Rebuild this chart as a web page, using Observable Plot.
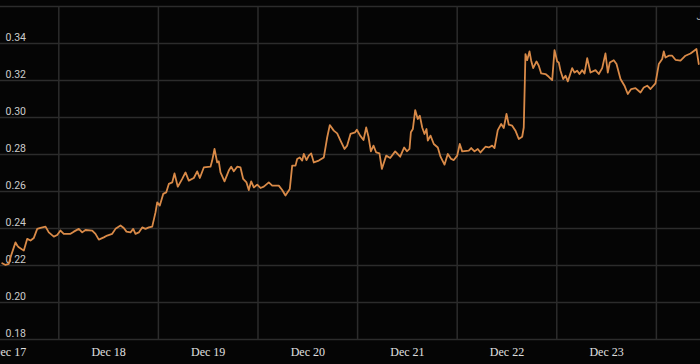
<!DOCTYPE html>
<html>
<head>
<meta charset="utf-8">
<script src="https://cdn.jsdelivr.net/npm/d3@7"></script>
<script src="https://cdn.jsdelivr.net/npm/@observablehq/plot@0.6"></script>
<style>
  html, body { margin: 0; padding: 0; background: #050505; overflow: hidden; }
  #chart { width: 700px; height: 364px; }
</style>
</head>
<body>
<div id="chart"></div>
<script>
// Hours after Dec 17 00:00 (UTC) and the price
const hours = [
  -1.64, -0.84, -0.05, 0.36, 1.57, 1.98, 2.36, 3.18, 3.57, 4.39, 5.18, 5.98, 6.80, 7.59, 8.80, 9.59,
  10.80, 11.61, 12.41, 13.20, 14.82, 15.61, 16.82, 17.64, 18.43, 20.05, 20.84, 21.64, 22.84, 23.66,
  24.87, 25.66, 26.87, 27.66, 28.31, 29.28, 29.93, 30.48, 31.28, 32.10, 32.89, 33.69, 34.51, 35.30,
  35.71, 36.34, 37.16, 37.88, 38.51, 39.33, 39.88, 40.67, 41.74, 42.53, 43.32, 44.53, 45.35, 45.98,
  46.94, 48.55, 48.96, 49.52, 50.17, 50.55, 50.96, 51.93, 52.96, 53.54, 54.17, 54.99, 55.78, 56.43,
  57.23, 57.78, 58.36, 58.99, 59.81, 60.60, 61.40, 62.60, 63.42, 65.01, 65.83, 66.62, 67.66, 68.24,
  69.04, 69.44, 70.07, 70.65, 71.03, 71.69, 72.24, 72.82, 73.45, 74.65, 75.86, 76.67, 77.30, 78.26,
  79.08, 79.88, 80.84, 81.49, 82.29, 83.41, 83.82, 84.62, 85.42, 86.07, 86.62, 87.20, 87.83, 88.48,
  89.27, 89.85, 90.89, 91.85, 93.06, 94.26, 95.23, 95.88, 96.51, 96.84, 97.32, 97.88, 98.50, 98.99,
  99.57, 100.12, 100.60, 100.92, 101.57, 102.36, 103.33, 103.98, 104.94, 105.73, 106.55, 107.18,
  108.00, 108.62, 109.20, 110.79, 111.37, 112.17, 112.96, 113.61, 114.82, 115.61, 116.43, 116.99,
  117.78, 118.60, 119.22, 119.88, 120.43, 121.25, 122.04, 122.84, 123.66, 124.04, 124.45, 124.86,
  125.42, 125.83, 126.31, 127.11, 127.66, 128.24, 129.28, 130.07, 130.89, 131.45, 132.10, 132.48,
  132.89, 133.54, 134.10, 134.65, 135.71, 136.27, 136.92, 137.47, 138.13, 138.68, 139.33, 140.12,
  141.33, 142.12, 142.94, 143.73, 144.29, 144.77, 145.73, 146.39, 147.35, 148.31, 149.11, 149.93,
  150.96, 152.17, 152.96, 153.78, 154.58, 155.78, 156.58, 157.40, 157.78, 158.19, 158.99, 159.81,
  160.60, 161.81, 163.01, 164.22, 164.87, 165.66, 166.22
];
const prices = [
  0.2212, 0.2203, 0.2209, 0.2244, 0.2325, 0.2308, 0.2298, 0.2286, 0.2281, 0.2344, 0.2335, 0.2349, 0.2398, 0.2403, 0.2410, 0.2379,
  0.2356, 0.2365, 0.2389, 0.2371, 0.2371, 0.2383, 0.2398, 0.2379, 0.2392, 0.2389, 0.2371, 0.2340, 0.2352, 0.2362,
  0.2371, 0.2398, 0.2416, 0.2403, 0.2383, 0.2379, 0.2398, 0.2371, 0.2379, 0.2406, 0.2398, 0.2406, 0.2410, 0.2487,
  0.2541, 0.2524, 0.2587, 0.2595, 0.2641, 0.2649, 0.2698, 0.2626, 0.2668, 0.2703, 0.2659, 0.2673, 0.2709, 0.2673,
  0.2730, 0.2734, 0.2767, 0.2830, 0.2757, 0.2763, 0.2703, 0.2655, 0.2713, 0.2734, 0.2709, 0.2734, 0.2730, 0.2668,
  0.2649, 0.2608, 0.2655, 0.2622, 0.2637, 0.2619, 0.2626, 0.2649, 0.2632, 0.2632, 0.2608, 0.2578, 0.2614, 0.2740,
  0.2740, 0.2776, 0.2784, 0.2767, 0.2803, 0.2770, 0.2794, 0.2806, 0.2757, 0.2767, 0.2784, 0.2892, 0.2959, 0.2929,
  0.2914, 0.2875, 0.2830, 0.2848, 0.2911, 0.2920, 0.2934, 0.2902, 0.2878, 0.2946, 0.2896, 0.2817, 0.2848, 0.2811,
  0.2806, 0.2722, 0.2794, 0.2781, 0.2817, 0.2788, 0.2838, 0.2817, 0.2830, 0.2920, 0.2938, 0.3040, 0.2992, 0.3010,
  0.2946, 0.2911, 0.2938, 0.2875, 0.2902, 0.2857, 0.2838, 0.2788, 0.2745, 0.2803, 0.2776, 0.2770,
  0.2794, 0.2857, 0.2817, 0.2821, 0.2835, 0.2817, 0.2830, 0.2811, 0.2842, 0.2838, 0.2848, 0.2835,
  0.2932, 0.2965, 0.2943, 0.3019, 0.2961, 0.2956, 0.2929, 0.2884, 0.2896, 0.2946, 0.3343, 0.3310,
  0.3357, 0.3307, 0.3267, 0.3303, 0.3280, 0.3238, 0.3235, 0.3220, 0.3202, 0.3364, 0.3303, 0.3297,
  0.3253, 0.3208, 0.3226, 0.3195, 0.3267, 0.3243, 0.3253, 0.3235, 0.3256, 0.3238, 0.3321, 0.3243,
  0.3256, 0.3235, 0.3267, 0.3346, 0.3243, 0.3297, 0.3310, 0.3289, 0.3208, 0.3172, 0.3127, 0.3154,
  0.3159, 0.3135, 0.3162, 0.3172, 0.3154, 0.3184, 0.3289, 0.3316, 0.3357, 0.3324, 0.3334, 0.3334,
  0.3312, 0.3307, 0.3334, 0.3346, 0.3357, 0.3370, 0.3289
];
const yTickValues = [0.18, 0.20, 0.22, 0.24, 0.26, 0.28, 0.30, 0.32, 0.34];
const yGridValues = [0.18, 0.20, 0.22, 0.24, 0.26, 0.28, 0.30, 0.32, 0.34, 0.36];
const dayLabels = ["2023-12-17", "2023-12-18", "2023-12-19", "2023-12-20", "2023-12-21", "2023-12-22", "2023-12-23"];
const dayGrid = ["2023-12-17T12:00Z", "2023-12-18T12:00Z", "2023-12-19T12:00Z", "2023-12-20T12:00Z", "2023-12-21T12:00Z", "2023-12-22T12:00Z", "2023-12-23T12:00Z"];
const xDomainHours = [-2.05, 166.63];
const cornerLabel = ["J"];

const BASE = Date.UTC(2023, 11, 17);
const HOUR = 3600e3;
const data = hours.map((h, i) => ({date: new Date(BASE + h * HOUR), price: prices[i]}));
const labelDates = dayLabels.map(s => new Date(s + "T00:00Z"));
const gridDates = dayGrid.map(s => new Date(s));

const chart = Plot.plot({
  width: 700,
  height: 364,
  marginLeft: 0,
  marginRight: 0,
  marginTop: 6,
  marginBottom: 25,
  style: {background: "#050505", color: "#dddddd", overflow: "hidden", fontFamily: "'Liberation Serif', serif", fontSize: "12px"},
  x: {type: "utc", domain: xDomainHours.map(h => new Date(BASE + h * HOUR))},
  y: {domain: [0.18, 0.36], axis: null},
  marks: [
    Plot.ruleY(yGridValues, {stroke: "#2c2c2c", strokeWidth: 1.5}),
    Plot.ruleX(gridDates, {stroke: "#2c2c2c", strokeWidth: 1.5}),
    Plot.text(yTickValues, {
      y: d => d, frameAnchor: "left", dx: 5, dy: -6,
      text: d => d.toFixed(2), textAnchor: "start",
      fill: "#cccccc", fontSize: 10.5, fontFamily: "Roboto"
    }),
    Plot.axisX(labelDates, {
      tickSize: 0, tickPadding: 8, label: null,
      tickFormat: d3.utcFormat("%b %-d"),
      fontFamily: "Liberation Serif", fontSize: 12, fill: "#e0e0e0"
    }),
    Plot.line(data, {x: "date", y: "price", stroke: "#d98a48", strokeWidth: 1.8}),
    Plot.text(cornerLabel, {
      frameAnchor: "top-right", text: d => d, dx: -4, dy: 6,
      textAnchor: "start", fill: "#aaaaaa", fontSize: 10, fontFamily: "Roboto"
    })
  ]
});
document.getElementById("chart").appendChild(chart);
</script>
</body>
</html>
